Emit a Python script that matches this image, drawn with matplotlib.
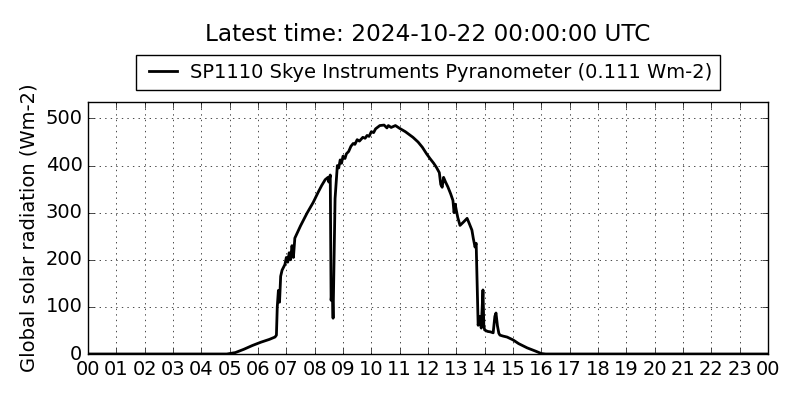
import matplotlib
matplotlib.use("Agg")
import matplotlib.pyplot as plt

# hours (decimal) and global solar radiation (Wm-2)
hours = [0.0, 4.9, 5.2, 5.5, 5.8, 6.1, 6.4, 6.6, 6.65, 6.68, 6.72, 6.76,
         6.8, 6.85, 6.95, 7.0, 7.05, 7.1, 7.15, 7.2, 7.25, 7.3,
         7.5, 7.73, 7.95, 8.12, 8.25, 8.37, 8.47, 8.5, 8.55, 8.58, 8.62,
         8.65, 8.72, 8.8, 8.85, 8.9, 8.95, 9.0, 9.07, 9.12, 9.2, 9.28, 9.36,
         9.42, 9.5, 9.58, 9.7, 9.78, 9.85, 9.92, 10.0, 10.08,
         10.15, 10.3, 10.45, 10.55, 10.6, 10.7, 10.85, 11.0, 11.2, 11.47, 11.65,
         11.8, 11.95, 12.07, 12.2, 12.3, 12.4, 12.45, 12.5, 12.55, 12.62,
         12.7, 12.8, 12.88, 12.92, 12.96, 13.0, 13.05, 13.13, 13.25, 13.38,
         13.45, 13.55, 13.6, 13.66, 13.7, 13.77, 13.82, 13.88, 13.94, 13.97,
         14.0, 14.1, 14.2, 14.3, 14.36, 14.4, 14.45, 14.5, 14.54, 14.65,
         14.79, 15.0, 15.2, 15.5, 15.8, 16.0, 16.15, 24.0]
radiation = [0, 0, 3, 10, 18, 25, 31, 36, 40, 100, 135, 110,
             165, 178, 190, 205, 195, 215, 200, 230, 205, 246,
             272, 299, 322, 343, 358, 370, 375, 365, 380, 114, 140,
             76, 330, 400, 395, 412, 405, 420, 415, 425, 430, 441, 447,
             445, 455, 452, 460, 458, 464, 462, 472, 470,
             478, 485, 486, 480, 485, 481, 485, 479, 472, 460, 450,
             439, 425, 415, 405, 396, 385, 360, 354, 375, 365,
             355, 340, 326, 300, 318, 305, 290, 273, 280, 288,
             278, 263, 245, 227, 235, 61, 80, 55, 136, 60,
             51, 48, 47, 45, 80, 87, 60, 44, 40, 38,
             36, 30, 22, 13, 6, 1, 0, 0]

hour_labels = ["%02d" % (h % 24) for h in range(25)]

plt.style.use("classic")
plt.rcParams["figure.facecolor"] = "white"
plt.rcParams["savefig.facecolor"] = "white"

fig = plt.figure(figsize=(8, 4), dpi=100)
ax = fig.add_axes([0.11, 0.115, 0.85, 0.63])

ax.plot(hours, radiation, color="k", lw=2,
        label="SP1110 Skye Instruments Pyranometer (0.111 Wm-2)")

ax.set_xlim(0, 24)
ax.set_ylim(0, 535)
ax.set_xticks(range(25))
ax.set_xticklabels(hour_labels)
ax.set_yticks([0, 100, 200, 300, 400, 500])
ax.tick_params(labelsize=14)
ax.set_ylabel("Global solar radiation (Wm-2)", fontsize=14)
ax.grid(True)

ax.legend(loc="lower center", bbox_to_anchor=(0.5, 1.048), fontsize=14,
          handlelength=2.0, handletextpad=0.4, borderaxespad=0)
ax.set_title("Latest time: 2024-10-22 00:00:00 UTC", fontsize=16.7, pad=44)

fig.savefig("out.png", dpi=100)
